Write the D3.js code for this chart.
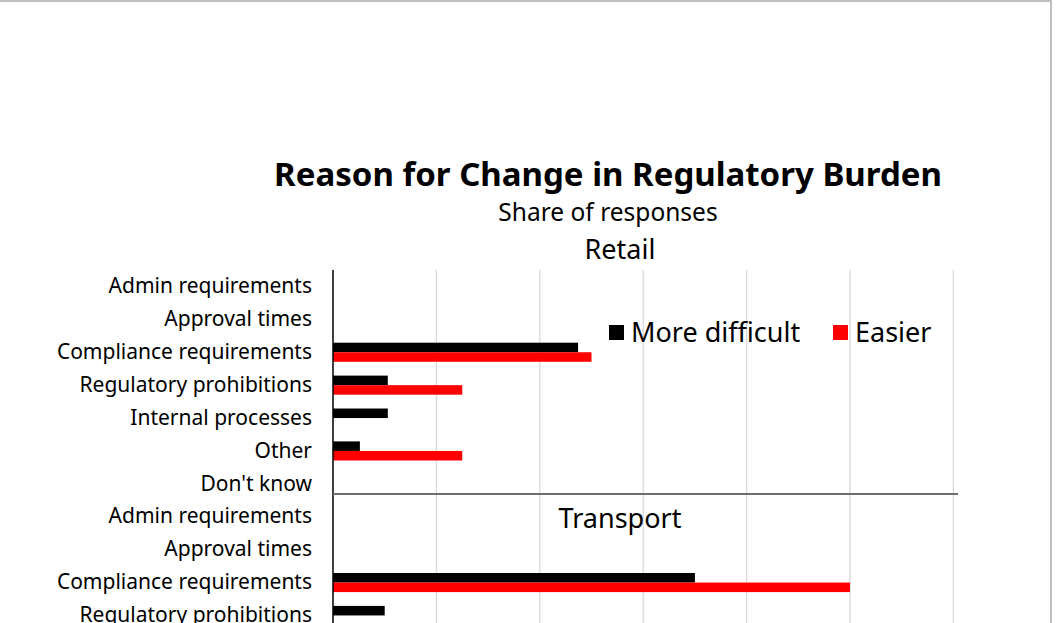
<!DOCTYPE html>
<html>
<head>
<meta charset="utf-8">
<script src="https://cdn.jsdelivr.net/npm/d3@7"></script>
<style>
  html, body { margin: 0; padding: 0; background: #fff; }
  svg { display: block; }
  text { font-family: "Noto Sans", "Open Sans", sans-serif; fill: #000; }
</style>
</head>
<body>
<svg id="chart" width="1058" height="623"></svg>
<script>
// ---- data (share of responses, %) ----
const categories = ["Admin requirements", "Approval times", "Compliance requirements",
  "Regulatory prohibitions", "Internal processes", "Other", "Don't know"];
const series = ["More difficult", "Easier"];
const colors = ["#000000", "#ff0000"];
const retailMoreDifficult = [0, 0, 23.7, 5.3, 5.3, 2.6, 0];
const retailEasier        = [0, 0, 25.0, 12.5, 0, 12.5, 0];
const transportCategories = ["Admin requirements", "Approval times", "Compliance requirements",
  "Regulatory prohibitions"];
const transportMoreDifficult = [0, 0, 35, 5];
const transportEasier        = [0, 0, 50, 0];
const xTicks = [0, 10, 20, 30, 40, 50, 60];

(function () {
// ---- layout ----
const svg = d3.select("#chart");
const W = 1058, H = 623;
const plotLeft = 333, plotRight = 953.4, plotTop = 270;
const step = 32.9;

// frame
svg.append("rect").attr("x", -5).attr("y", 1).attr("width", 1056).attr("height", H + 20)
  .attr("fill", "#fff").attr("stroke", "#bfbfbf").attr("stroke-width", 2);

// rows
const rows = [];
categories.forEach((c, i) => rows.push({ key: "R|" + c, label: c, vals: [retailMoreDifficult[i], retailEasier[i]] }));
transportCategories.forEach((c, i) => rows.push({ key: "T|" + c, label: c, vals: [transportMoreDifficult[i], transportEasier[i]] }));

const x = d3.scaleLinear().domain([0, 60]).range([plotLeft, plotRight]);
const y = d3.scaleBand().domain(rows.map(r => r.key))
  .range([plotTop, plotTop + rows.length * step]).paddingInner(0.42).paddingOuter(0.21);
const ySub = d3.scaleBand().domain(series).range([0, y.bandwidth()]);

// gridlines
svg.append("g").selectAll("line").data(xTicks.slice(1)).join("line")
  .attr("x1", d => x(d)).attr("x2", d => x(d))
  .attr("y1", plotTop).attr("y2", H + 10)
  .attr("stroke", "#d9d9d9").attr("stroke-width", 1.3);

// bars
const g = svg.append("g");
rows.forEach(r => {
  series.forEach((s, si) => {
    if (r.vals[si] > 0) {
      g.append("rect")
        .attr("x", x(0)).attr("y", y(r.key) + ySub(s))
        .attr("width", x(r.vals[si]) - x(0)).attr("height", ySub.bandwidth())
        .attr("fill", colors[si]);
    }
  });
});

// category axis (labels)
const yAxis = d3.axisLeft(y).tickSize(0).tickPadding(21).tickFormat(k => k.split("|")[1]);
const ya = svg.append("g").attr("transform", `translate(${plotLeft},0)`).call(yAxis);
ya.select(".domain").remove();
ya.selectAll("text").style("font-size", "21px").style("font-family", "'Noto Sans', sans-serif").attr("fill", "#000");

// vertical axis line
svg.append("line").attr("x1", plotLeft).attr("x2", plotLeft).attr("y1", plotTop).attr("y2", H + 10)
  .attr("stroke", "#000").attr("stroke-width", 1.5);

// separator between panels
svg.append("line").attr("x1", plotLeft).attr("x2", 958).attr("y1", 494).attr("y2", 494)
  .attr("stroke", "#6e6e6e").attr("stroke-width", 2);

// titles
svg.append("text").attr("x", 608).attr("y", 186).attr("text-anchor", "middle")
  .style("font-size", "33px").style("font-weight", "bold").text("Reason for Change in Regulatory Burden");
svg.append("text").attr("x", 608).attr("y", 221).attr("text-anchor", "middle")
  .style("font-size", "24.5px").text("Share of responses");
svg.append("text").attr("x", 620).attr("y", 259).attr("text-anchor", "middle")
  .style("font-size", "27px").text("Retail");
svg.append("text").attr("x", 620).attr("y", 528).attr("text-anchor", "middle")
  .style("font-size", "27px").text("Transport");

// legend
const legendX = [609, 833];
const lg = svg.append("g");
series.forEach((s, i) => {
  lg.append("rect").attr("x", legendX[i]).attr("y", 325).attr("width", 15).attr("height", 15).attr("fill", colors[i]);
  lg.append("text").attr("x", legendX[i] + 22).attr("y", 342).style("font-size", "27px").text(s);
});
})();
</script>
</body>
</html>
